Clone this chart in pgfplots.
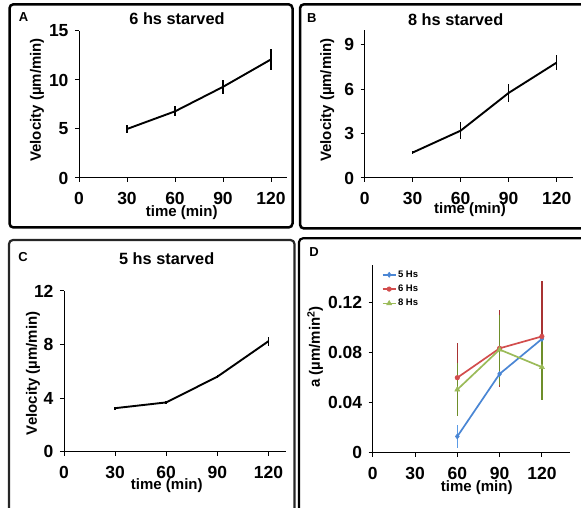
\documentclass[border=0pt]{standalone}
\usepackage{fontspec}
\setmainfont{Liberation Sans}
\usepackage{pgfplots}
\pgfplotsset{compat=1.18}
\definecolor{cblue}{HTML}{4A86D4}
\definecolor{cred}{HTML}{D24D4D}
\definecolor{cgreen}{HTML}{9BBB59}
\definecolor{ebblue}{HTML}{5B9BE6}
\definecolor{ebred}{HTML}{A83232}
\definecolor{ebgreen}{HTML}{6E8E2A}
\pgfplotsset{
 panel/.style={
  scale only axis,
  anchor=south west,
  axis x line=bottom, axis y line=left,
  axis line style={-, line width=1pt},
  every tick/.style={black, line width=1pt},
  major tick length=4pt,
  tick align=outside,
  xmin=0, ymin=0, xmax=130,
  xtick={0,30,60,90,120},
  /pgf/number format/assume math mode=true,
  tick label style={font=\bfseries\fontsize{17.5}{17.5}\selectfont},
  xticklabel style={yshift=-7pt},
  yticklabel style={xshift=-3pt},
  label style={font=\bfseries\fontsize{15}{15}\selectfont},
  xlabel={time (min)},
  ylabel={Velocity (µm/min)},
  clip=false,
 },
 ser/.style={black, line width=1.9pt, mark=none,
   error bars/.cd, y dir=both, y explicit, error mark=none,
   error bar style={line width=1.5pt, black}},
}
\begin{document}
\begin{tikzpicture}
\useasboundingbox (0pt,0pt) rectangle (581pt,508pt);
\clip (0pt,0pt) rectangle (581pt,508pt);
% frames
\draw[line width=2.5pt, rounded corners=4pt] (9.5pt,503.7pt) rectangle (292.5pt,280.5pt);
\draw[line width=2.5pt, rounded corners=4pt] (300pt,503.7pt) rectangle (590pt,279.5pt);
\draw[line width=2.2pt, black!85, rounded corners=4pt] (9pt,268pt) rectangle (294.5pt,-10pt);
\draw[line width=2.2pt, rounded corners=4pt] (299pt,269.7pt) rectangle (590pt,-10pt);
% panel letters and titles
\node[font=\bfseries\fontsize{13}{13}\selectfont] at (23.5pt,490.5pt) {A};
\node[font=\bfseries\fontsize{13}{13}\selectfont] at (311.7pt,490pt) {B};
\node[font=\bfseries\fontsize{13}{13}\selectfont] at (23pt,251pt) {C};
\node[font=\bfseries\fontsize{13}{13}\selectfont] at (314pt,256pt) {D};
\node[font=\bfseries\fontsize{16.3}{16.3}\selectfont] at (177pt,489pt) {6 hs starved};
\node[font=\bfseries\fontsize{16.3}{16.3}\selectfont] at (455.7pt,488pt) {8 hs starved};
\node[font=\bfseries\fontsize{16.3}{16.3}\selectfont] at (166.7pt,249.7pt) {5 hs starved};

% Panel A
\begin{axis}[panel, at={(79pt,330pt)}, width=208pt, height=147pt,
  ymax=15, ytick={0,5,10,15},
  xlabel style={at={(axis description cs:0.494,-0.235)}, anchor=center},
  ylabel style={at={(axis description cs:-0.202,0.531)}, anchor=center}]
\addplot[ser] coordinates {(30,5.0) +- (0,0.45) (60,6.8) +- (0,0.5) (90,9.3) +- (0,0.7) (120,12.1) +- (0,1.05)};
\end{axis}

% Panel B
\begin{axis}[panel, at={(364.7pt,330pt)}, width=208pt, height=148pt,
  ymax=10, ytick={0,3,6,9},
  xlabel style={at={(axis description cs:0.506,-0.212)}, anchor=center},
  ylabel style={at={(axis description cs:-0.18,0.527)}, anchor=center}]
\addplot[ser] coordinates {(30,1.72) +- (0,0.12) (60,3.2) +- (0,0.55) (90,5.75) +- (0,0.6) (120,7.8) +- (0,0.5)};
\end{axis}

% Panel C
\begin{axis}[panel, at={(64pt,56.3pt)}, width=221.5pt, height=160.7pt,
  ymax=12, ytick={0,4,8,12},
  xlabel style={at={(axis description cs:0.464,-0.21)}, anchor=center},
  ylabel style={at={(axis description cs:-0.14,0.488)}, anchor=center}]
\addplot[ser] coordinates {(30,3.25) +- (0,0.1) (60,3.68) +- (0,0.1) (90,5.6) +- (0,0.12) (120,8.25) +- (0,0.35)};
\end{axis}

% Panel D
\begin{axis}[panel, at={(372.7pt,55.3pt)}, width=197.4pt, height=187.5pt,
  xmax=140, ymax=0.15, ytick={0,0.04,0.08,0.12},
  yticklabels={0,0.04,0.08,0.12},
  ylabel={a (µm/min\textsuperscript{2})},
  xlabel style={at={(axis description cs:0.527,-0.185)}, anchor=center},
  ylabel style={at={(axis description cs:-0.292,0.564)}, anchor=center},
  legend style={at={(axis description cs:0.03,0.99)}, anchor=north west, draw=none, fill=none,
    font=\bfseries\fontsize{9.5}{9.5}\selectfont, row sep=3.2pt,
    nodes={inner sep=1.5pt}},
  legend image code/.code={\draw[#1, mark repeat=2, mark phase=2] plot coordinates {(0pt,0pt) (6.5pt,0pt) (13pt,0pt)};},
  legend cell align=left]
\addplot[cblue, line width=1.7pt, mark=diamond*, mark size=2.6pt, mark options={line width=0.5pt},
  error bars/.cd, y dir=both, y explicit, error mark=none, error bar style={line width=1.5pt, ebblue}]
  coordinates {(60,0.013) +- (0,0.009) (90,0.063) +- (0,0.01) (120,0.091) +- (0,0.016)};
\addlegendentry{5 Hs}
\addplot[cred, line width=1.7pt, mark=*, mark size=2.3pt, mark options={line width=0.5pt},
  error bars/.cd, y dir=both, y explicit, error mark=none, error bar style={line width=1.5pt, ebred}]
  coordinates {(60,0.060) +- (0,0.028) (90,0.0835) +- (0,0.031) (120,0.093) +- (0,0.044)};
\addlegendentry{6 Hs}
\addplot[cgreen, line width=1.7pt, mark=triangle*, mark size=2.9pt, mark options={line width=0.5pt},
  error bars/.cd, y dir=both, y explicit, error mark=none, error bar style={line width=1.5pt, ebgreen}]
  coordinates {(60,0.0505) +- (0,0.021) (90,0.0825) +- (0,0.028) (120,0.0685) +- (0,0.026)};
\addlegendentry{8 Hs}
\end{axis}
\end{tikzpicture}
\end{document}
